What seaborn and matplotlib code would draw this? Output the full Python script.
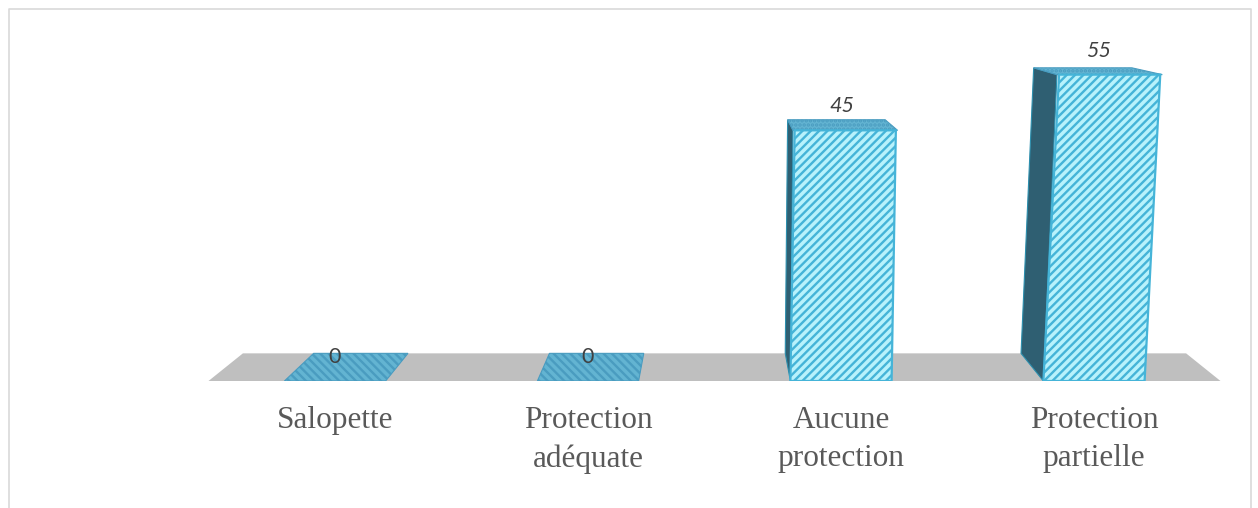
import seaborn as sns
import matplotlib.pyplot as plt
from matplotlib.patches import Polygon
from matplotlib.lines import Line2D
from matplotlib.transforms import Affine2D

categories = ['Salopette', 'Protection\nadéquate', 'Aucune\nprotection', 'Protection\npartielle']
values = [0, 0, 45, 55]

# perspective settings, fitted on the picture
HORIZON = 73.0
SHRINK = 0.068
LEAN = 0.00075
CENTER = 1.5

FACE = '#b8f2fc'
STRIPE = '#45b4d8'
TOP = '#63b4d2'
TOP_STRIPE = '#4a9cc0'
SIDE = '#2f5f72'
FLOOR = '#bfbfbf'


def project(x, z, d):
    # d=0 is the front plane, d=1 the back of the floor
    scale = 1 - SHRINK * d
    return (CENTER + (x - CENTER) * (1 + LEAN * z) * scale,
            HORIZON + (z - HORIZON) * scale)


sns.set_theme(style='white')
plt.rcParams['hatch.linewidth'] = 1.7

fig = plt.figure(figsize=(12.58, 5.08), dpi=100)
ax = fig.add_axes([0, 127 / 508, 1, 381 / 508])

sns.barplot(x=categories, y=values, width=0.4, color=FACE, saturation=1,
            edgecolor=STRIPE, hatch='////', linewidth=1.6, ax=ax, zorder=5)
ax.set_xlim(-335 / 253, 923 / 253)
ax.set_ylim(0, 68.4)

# floor under the bars
lo, hi = -0.5, len(categories) - 0.5
floor = [project(lo, 0, 0), project(hi, 0, 0), project(hi, 0, 1), project(lo, 0, 1)]
ax.add_patch(Polygon(floor, closed=True, fc=FLOOR, ec='none', zorder=1, clip_on=False))

for i, (bar, val) in enumerate(zip(ax.patches, values)):
    x0 = bar.get_x()
    x1 = x0 + bar.get_width()
    mid = x0 + bar.get_width() / 2

    # lid of the box (or the flat patch for a zero value)
    lid = [project(x0, val, 0), project(x1, val, 0), project(x1, val, 1), project(x0, val, 1)]
    ax.add_patch(Polygon(lid, closed=True, fc=TOP, ec=TOP_STRIPE, hatch='\\\\\\\\' if val == 0 else '....',
                         lw=0.8, zorder=4))

    if val > 0:
        # shear the seaborn bar so it leans like the perspective
        shear = LEAN * (mid - CENTER)
        bar.set_transform(Affine2D.from_values(1, 0, shear, 1, 0, 0) + ax.transData)
        if x0 > CENTER:
            side = [project(x0, 0, 0), project(x0, val, 0), project(x0, val, 1), project(x0, 0, 1)]
            ax.add_patch(Polygon(side, closed=True, fc=SIDE, ec='#2c8fae', lw=0.8, zorder=3))
    else:
        bar.set_visible(False)

    ax.annotate(str(val), (mid + 0.3 * LEAN * (mid - CENTER) * val, val + 4.3), ha='center', va='center',
                fontsize=15.5, family='Lato', style='italic' if val else 'normal',
                color='#404040', zorder=6)

ax.tick_params(axis='x', length=0, pad=18)
ax.set_xticks(range(len(categories)))
ax.set_xticklabels(categories, family='Liberation Serif', fontsize=22.5, color='#595959', linespacing=1.4)
ax.set_yticks([])
ax.set_xlabel('')
ax.patch.set_alpha(0)
sns.despine(ax=ax, left=True, bottom=True)

# thin frame round the chart, open at the bottom
frame = '#d9d9d9'
l, r, t = 8.5 / 1258, 1250.5 / 1258, 1 - 8.5 / 508
fig.add_artist(Line2D([l, l, r, r], [0, t, t, 0], color=frame, lw=1.2))

fig.savefig('out.png', dpi=100)
